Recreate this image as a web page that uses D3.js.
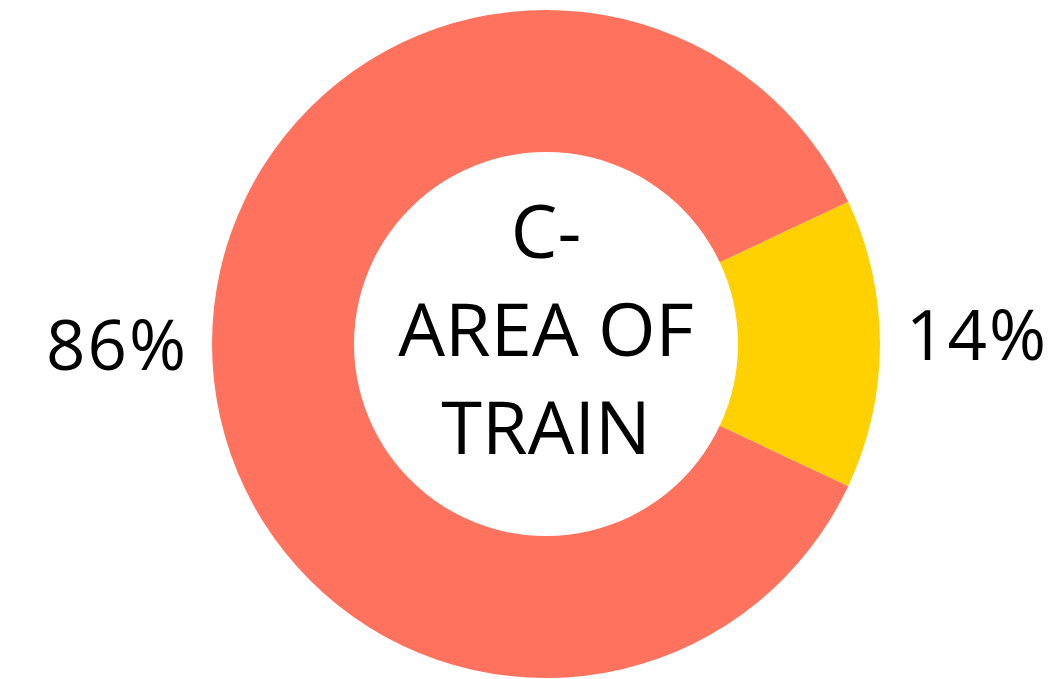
<!DOCTYPE html>
<html>
<head>
<meta charset="utf-8">
<script src="https://cdn.jsdelivr.net/npm/d3@7"></script>
<style>
  html, body { margin: 0; padding: 0; background: #fff; }
  svg { display: block; }
</style>
</head>
<body>
<svg id="chart" width="1052" height="679"></svg>
<script>
// Share of the train area
const categories = ["C", "Other"];
const values = [14, 86];
const labels = ["14%", "86%"];
const colors = ["#FFD100", "#FF725D"];
const centerLines = ["C-", "AREA OF", "TRAIN"];

const svg = d3.select("#chart");
const cx = 546, cy = 344;
const outerR = 334, innerR = 192;

const g = svg.append("g").attr("transform", `translate(${cx},${cy})`);

const total = d3.sum(values);
// Centre the first slice on the right-hand side of the ring
const start = Math.PI / 2 - (values[0] / total) * Math.PI;

const pie = d3.pie()
  .sort(null)
  .value(d => d)
  .startAngle(start)
  .endAngle(start + 2 * Math.PI);

const arcs = pie(values);
const arc = d3.arc().innerRadius(innerR).outerRadius(outerR);

g.selectAll("path.slice")
  .data(arcs)
  .join("path")
  .attr("class", "slice")
  .attr("d", arc)
  .attr("fill", (d, i) => colors[i]);

// Percentage labels just outside the ring
const labelR = 360;
const spacing = 2;
g.selectAll("text.pct")
  .data(arcs)
  .join("text")
  .attr("class", "pct")
  .each(function (d, i) {
    const a = (d.startAngle + d.endAngle) / 2;
    const x = Math.sin(a) * labelR;
    const y = -Math.cos(a) * labelR;
    const right = x > 0;
    d3.select(this)
      .attr("x", right ? x : x + spacing)
      .attr("y", y + (right ? 16 : 26))
      .attr("text-anchor", right ? "start" : "end");
  })
  .attr("font-family", "'Open Sans', sans-serif")
  .attr("font-size", 69)
  .attr("letter-spacing", spacing)
  .attr("fill", "#000")
  .text((d, i) => labels[i]);

// Centre title
const lineGap = 98;
g.selectAll("text.title")
  .data(centerLines)
  .join("text")
  .attr("class", "title")
  .attr("x", 0)
  .attr("y", (d, i) => -86 + i * lineGap)
  .attr("text-anchor", "middle")
  .attr("font-family", "'Open Sans', sans-serif")
  .attr("font-size", 74)
  .attr("fill", "#000")
  .text(d => d);
</script>
</body>
</html>
